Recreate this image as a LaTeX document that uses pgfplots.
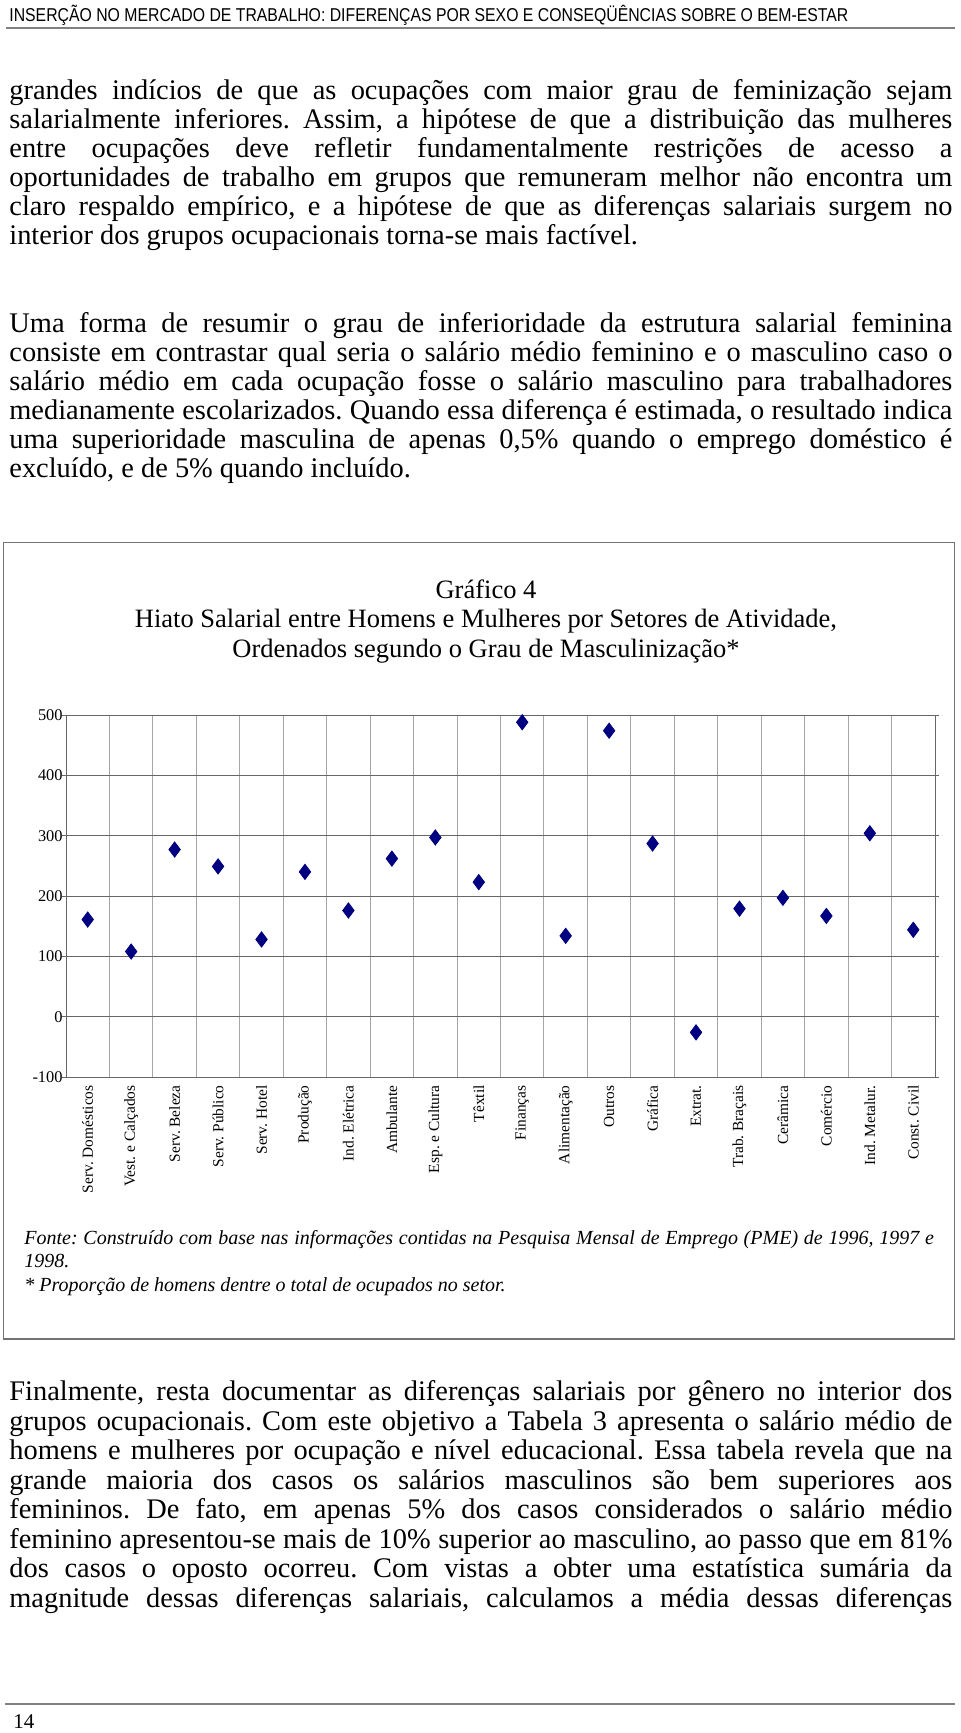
\documentclass[border=0pt]{standalone}
\usepackage{fontspec}
\setmainfont{Liberation Serif}
\setsansfont{Liberation Sans}
\usepackage{graphicx}
\usepackage{pgfplots}
\pgfplotsset{compat=1.18}
\definecolor{navymark}{RGB}{0,0,128}
\newsavebox\hdrbox
\newcommand\bodyfont{\fontsize{14.2pt}{17pt}\selectfont}
% justified line / last line of a paragraph, baseline y in pt
\newcommand\jl[2]{\node[anchor=base west,inner sep=0pt] at (4.5pt,-#1pt-1pt) {\makebox[471.5pt][s]{#2}};}
\newcommand\nl[2]{\node[anchor=base west,inner sep=0pt] at (4.5pt,-#1pt-1pt) {#2};}
\begin{document}
\frenchspacing
\sbox\hdrbox{\fontsize{9.3pt}{11pt}\sffamily INSERÇÃO NO MERCADO DE TRABALHO: DIFERENÇAS POR SEXO E CONSEQÜÊNCIAS SOBRE O BEM-ESTAR}%
\pgfmathsetmacro\hdrscale{419.5/\wd\hdrbox}%
\begin{tikzpicture}[font=\bodyfont]
\path[use as bounding box] (0pt,0pt) rectangle (480pt,-866.5pt);

% running head
\node[anchor=base west,inner sep=0pt] at (4.5pt,-10.8pt) {\scalebox{\hdrscale}[1]{\usebox\hdrbox}};
\draw[black!50,line width=1pt] (3pt,-14pt) -- (477.5pt,-14pt);

% paragraph 1
\jl{48.8}{grandes indícios de que as ocupações com maior grau de feminização sejam}
\jl{63.25}{salarialmente inferiores. Assim, a hipótese de que a distribuição das mulheres}
\jl{77.7}{entre ocupações deve refletir fundamentalmente restrições de acesso a}
\jl{92.15}{oportunidades de trabalho em grupos que remuneram melhor não encontra um}
\jl{106.6}{claro respaldo empírico, e a hipótese de que as diferenças salariais surgem no}
\nl{121.05}{interior dos grupos ocupacionais torna-se mais factível.}

% paragraph 2
\jl{165.35}{Uma forma de resumir o grau de inferioridade da estrutura salarial feminina}
\jl{179.8}{consiste em contrastar qual seria o salário médio feminino e o masculino caso o}
\jl{194.25}{salário médio em cada ocupação fosse o salário masculino para trabalhadores}
\jl{208.7}{medianamente escolarizados. Quando essa diferença é estimada, o resultado indica}
\jl{223.15}{uma superioridade masculina de apenas 0,5\% quando o emprego doméstico é}
\nl{237.6}{excluído, e de 5\% quando incluído.}

% chart frame and title
\draw[black!55,line width=0.7pt] (1.65pt,-271.2pt) rectangle (477.25pt,-669.5pt);
\begin{scope}[font=\fontsize{13.25pt}{15pt}\selectfont]
\node[anchor=base,inner sep=0pt] at (243pt,-299pt) {Gráfico 4};
\node[anchor=base,inner sep=0pt] at (243pt,-313.9pt) {Hiato Salarial entre Homens e Mulheres por Setores de Atividade,};
\node[anchor=base,inner sep=0pt] at (243pt,-328.8pt) {Ordenados segundo o Grau de Masculinização*};
\end{scope}

\begin{axis}[
  at={(33pt,-538.5pt)}, anchor=south west,
  scale only axis, width=434.5pt, height=181pt,
  xmin=0.5, xmax=20.5, ymin=-100, ymax=500,
  xtick={1,...,20},
  xticklabels={Serv. Domésticos, Vest. e Calçados, Serv. Beleza, Serv. Público,
    Serv. Hotel, Produção, Ind. Elétrica, Ambulante, Esp. e Cultura, Têxtil,
    Finanças, Alimentação, Outros, Gráfica, Extrat., Trab. Braçais, Cerâmica,
    Comércio, Ind. Metalur., Const. Civil},
  minor xtick={1.5,2.5,...,19.5},
  xminorgrids=true,
  minor x grid style={black!35, line width=0.5pt},
  xtick style={draw=none},
  ytick={-100,0,...,500},
  ymajorgrids=true,
  major y grid style={black!60, line width=0.5pt},
  ytick style={black!60, line width=0.5pt},
  tick align=outside, major tick length=2pt,
  axis line style={black!60, line width=0.5pt},
  x tick label style={rotate=90, anchor=east, inner sep=2pt,
    font=\fontsize{7.7pt}{9pt}\selectfont},
  y tick label style={inner sep=0pt, xshift=0.5pt, font=\fontsize{8.2pt}{9pt}\selectfont},
  yticklabel={\pgfmathprintnumber[assume math mode=true]{\tick}},
  clip=false,
]
\addplot[only marks, mark=diamond*, mark size=3.8pt,
  mark options={fill=navymark, draw=navymark}] coordinates {
  (1,161) (2,108) (3,277) (4,249) (5,128) (6,240) (7,176) (8,262) (9,297) (10,223)
  (11,488) (12,134) (13,474) (14,287) (15,-26) (16,179) (17,197) (18,167) (19,304) (20,144)
};
\end{axis}

% source notes
\begin{scope}[font=\fontsize{10pt}{12pt}\selectfont\itshape]
\node[anchor=base west,inner sep=0pt] at (12pt,-622pt) {\makebox[454.75pt][s]{Fonte: Construído com base nas informações contidas na Pesquisa Mensal de Emprego (PME) de 1996, 1997 e}};
\node[anchor=base west,inner sep=0pt] at (12pt,-633.6pt) {1998.};
\node[anchor=base west,inner sep=0pt] at (12pt,-645.8pt) {* Proporção de homens dentre o total de ocupados no setor.};
\end{scope}

% paragraph 3
\jl{699.4}{Finalmente, resta documentar as diferenças salariais por gênero no interior dos}
\jl{714.15}{grupos ocupacionais. Com este objetivo a Tabela 3 apresenta o salário médio de}
\jl{728.9}{homens e mulheres por ocupação e nível educacional. Essa tabela revela que na}
\jl{743.65}{grande maioria dos casos os salários masculinos são bem superiores aos}
\jl{758.4}{femininos. De fato, em apenas 5\% dos casos considerados o salário médio}
\jl{773.15}{feminino apresentou-se mais de 10\% superior ao masculino, ao passo que em 81\%}
\jl{787.9}{dos casos o oposto ocorreu. Com vistas a obter uma estatística sumária da}
\jl{802.65}{magnitude dessas diferenças salariais, calculamos a média dessas diferenças}

% foot
\draw[black!50,line width=1pt] (2.5pt,-852pt) -- (477.5pt,-852pt);
\node[anchor=base west,inner sep=0pt,font=\fontsize{10.5pt}{12pt}\selectfont] at (6.5pt,-864pt) {14};
\end{tikzpicture}
\end{document}
